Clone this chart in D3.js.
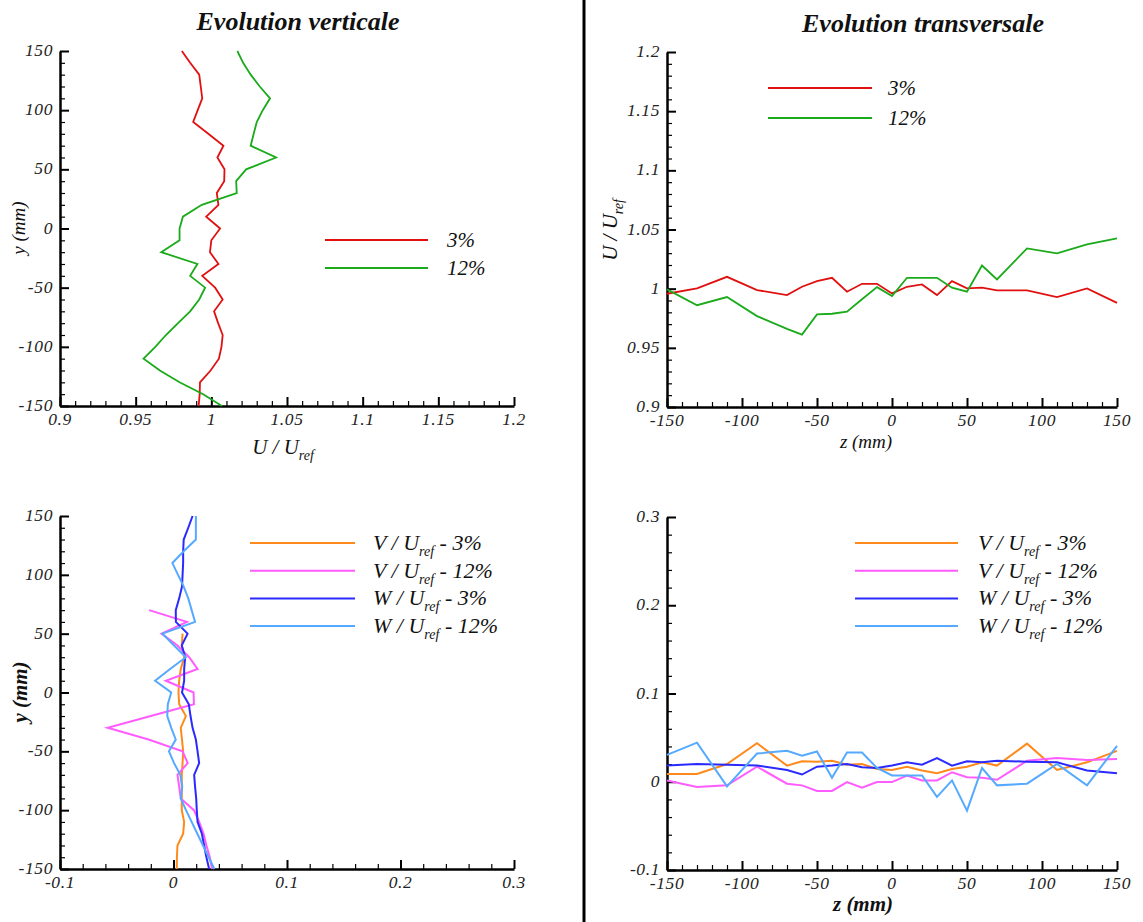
<!DOCTYPE html>
<html><head><meta charset="utf-8">
<script src="https://cdn.jsdelivr.net/npm/d3@7"></script>
<style>body{margin:0;background:#fff} svg{display:block}</style>
</head><body><svg id="c" width="1143" height="922" font-family="Liberation Serif, Times New Roman, serif"></svg>
<script>
// ---------- DATA ----------
// Panel 1 : vertical evolution of U/Uref (y in mm)
const yGrid = [150,140,130,120,110,100,90,80,70,60,50,40,30,20,10,0,-10,-20,-30,-40,-50,-60,-70,-80,-90,-100,-110,-120,-130,-140,-150];
const uVert3 = [0.9805,0.986,0.992,0.993,0.994,0.991,0.988,0.998,1.008,1.004,1.0087,1.0085,1.0036,1.0047,0.9966,1.0058,1.0,0.9991,1.0047,0.994,1.0025,1.0075,1.0018,1.0045,1.0075,1.0067,1.005,0.9995,0.9925,0.9923,0.9916];
const uVert12 = [1.0172,1.021,1.026,1.032,1.0388,1.034,1.030,1.028,1.026,1.0428,1.023,1.0164,1.0168,0.9937,0.9812,0.979,0.979,0.9669,0.9908,0.986,0.9959,0.992,0.986,0.978,0.970,0.963,0.9552,0.966,0.979,0.9946,1.007];

// Panel 2 : transverse evolution of U/Uref (z in mm)
const zGrid = [-150,-130,-110,-90,-70,-60,-50,-40,-30,-20,-10,0,10,20,30,40,50,60,70,90,110,130,150];
const uTrans3 = [0.9957,1.0002,1.010,0.9988,0.9946,1.0016,1.0064,1.0092,0.9974,1.0041,1.0041,0.996,1.0016,1.0036,0.9946,1.0064,1.0002,1.0008,0.9985,0.9985,0.9929,1.0002,0.988];
const uTrans12 = [0.9994,0.986,0.9929,0.9768,0.966,0.9612,0.9782,0.9788,0.9805,0.991,1.0013,0.9937,1.0092,1.0092,1.0092,1.0008,0.9974,1.0196,1.0078,1.034,1.0298,1.0374,1.0425];

// Panel 3 : vertical evolution of V/Uref and W/Uref
const yOrange = [50,40,30,20,10,0,-10,-20,-30,-40,-50,-60,-70,-80,-90,-100,-110,-120,-130,-140,-150];
const vVert3 = [0.008,0.0073,0.0094,0.0064,0.005,0.0044,0.005,0.0109,0.0064,0.0075,0.0085,0.008,0.0073,0.0073,0.0073,0.0073,0.0094,0.0085,0.0035,0.003,0.0029];
const yPink = [70,60,50,40,30,20,10,0,-10,-20,-30,-40,-50,-60,-70,-80,-90,-100,-110,-120,-130,-140,-150];
const vVert12 = [-0.0215,0.0118,-0.0106,0.0035,0.0138,0.0212,-0.0068,0.0177,0.018,-0.02,-0.058,-0.022,0.008,0.0125,0.0035,0.005,0.0064,0.018,0.0226,0.0265,0.029,0.032,0.034];
const wVert3 = [0.0168,0.013,0.009,0.0085,0.0085,0.008,0.0075,0.005,0.002,0.0021,0.0124,0.0073,0.0103,0.0094,0.0094,0.0075,0.0135,0.015,0.0168,0.0197,0.0212,0.0226,0.0182,0.019,0.020,0.0205,0.0212,0.025,0.027,0.029,0.0314];
const wVert12 = [0.0197,0.0197,0.0197,0.009,-0.001,0.004,0.009,0.013,0.016,0.019,-0.0097,0.0005,0.0109,-0.003,-0.0162,-0.002,-0.005,-0.0055,-0.002,0.002,-0.004,0.0005,0.006,0.0077,0.0064,0.011,0.016,0.021,0.026,0.031,0.036];

// Panel 4 : transverse evolution of V/Uref and W/Uref
const vTrans3 = [0.0089,0.0089,0.0201,0.0436,0.0183,0.0231,0.0227,0.0238,0.0194,0.0201,0.0145,0.0134,0.0171,0.0127,0.0097,0.0145,0.0171,0.022,0.0183,0.0432,0.0134,0.022,0.035];
const vTrans12 = [0.0015,-0.006,-0.0041,0.0171,-0.0022,-0.0041,-0.0104,-0.0104,-0.0004,-0.0067,-0.0004,-0.0004,0.0071,0.0015,0.0015,0.0108,0.0052,0.0045,0.0022,0.0238,0.0268,0.0246,0.0257];
const wTrans3 = [0.0183,0.0201,0.0194,0.0183,0.0134,0.0082,0.0171,0.0183,0.0201,0.0164,0.0156,0.0183,0.022,0.0194,0.0268,0.0183,0.0231,0.022,0.0238,0.0227,0.022,0.0127,0.0097];
const wTrans12 = [0.0305,0.0443,-0.0052,0.032,0.035,0.0294,0.0343,0.0045,0.0331,0.0331,0.0156,0.0071,0.0071,0.0071,-0.0171,0.0015,-0.0328,0.0156,-0.0041,-0.0022,0.0201,-0.0041,0.0406];

// Ticks
const posTicks = [-150,-100,-50,0,50,100,150];
const uTicks = [0.9,0.95,1,1.05,1.1,1.15,1.2];
const vwTicks = [-0.1,0,0.1,0.2,0.3];

// Colours
const C = {red:"#e01010", green:"#1aaa1a", orange:"#ff8a1c", pink:"#ff5cff", blue:"#2a2aff", lblue:"#55aaff"};
const SERIF = "Liberation Serif, Times New Roman, serif";

// ---------- DRAW ----------
const svg = d3.select("#c");
svg.append("rect").attr("width",1143).attr("height",922).attr("fill","#fff");
svg.append("line").attr("x1",584).attr("x2",584).attr("y1",0).attr("y2",922)
  .attr("stroke","#000").attr("stroke-width",3);

const fmt = d => String(+d.toFixed(3));
function minorTicks(t, n){ const out=[]; for(let i=0;i<t.length-1;i++){ for(let k=1;k<=n;k++) out.push(t[i]+(t[i+1]-t[i])*k/(n+1)); } return out; }
function styleTicks(s){
  s.select(".domain").attr("stroke","#000").attr("stroke-width",2.5);
  s.selectAll("line").attr("stroke","#000").attr("stroke-width",2);
  s.selectAll("text").remove();
}

function panel(o){
  const x = d3.scaleLinear().domain(o.xDom).range([o.x0,o.x1]);
  const y = d3.scaleLinear().domain(o.yDom).range([o.y1,o.y0]);
  const g = svg.append("g");
  // minor ticks
  g.append("g").attr("transform",`translate(0,${o.y1})`)
    .call(d3.axisBottom(x).tickValues(minorTicks(o.xTicks,4)).tickSizeInner(-5).tickSizeOuter(0).tickFormat(""))
    .call(s=>{s.select(".domain").remove(); s.selectAll("line").attr("stroke","#000").attr("stroke-width",1.2);});
  g.append("g").attr("transform",`translate(${o.x0},0)`)
    .call(d3.axisLeft(y).tickValues(minorTicks(o.yTicks,4)).tickSizeInner(-5).tickSizeOuter(0).tickFormat(""))
    .call(s=>{s.select(".domain").remove(); s.selectAll("line").attr("stroke","#000").attr("stroke-width",1.2);});
  // major
  g.append("g").attr("transform",`translate(0,${o.y1})`)
    .call(d3.axisBottom(x).tickValues(o.xTicks).tickSizeInner(-9).tickSizeOuter(0).tickFormat(""))
    .call(styleTicks);
  g.append("g").attr("transform",`translate(${o.x0},0)`)
    .call(d3.axisLeft(y).tickValues(o.yTicks).tickSizeInner(-9).tickSizeOuter(0).tickFormat(""))
    .call(styleTicks);
  // tick labels (placed with the scales)
  g.append("g").selectAll("text").data(o.xTicks).join("text")
    .attr("x",d=>x(d)).attr("y",o.y1+19).attr("text-anchor","middle")
    .attr("font-family",SERIF).attr("font-style","italic").attr("font-size",17.5).attr("letter-spacing",0.6).attr("fill","#222")
    .text(fmt);
  g.append("g").selectAll("text").data(o.yTicks).join("text")
    .attr("x",o.x0-7).attr("y",d=>y(d)+5).attr("text-anchor","end")
    .attr("font-family",SERIF).attr("font-style","italic").attr("font-size",17.5).attr("letter-spacing",0.6).attr("fill","#222")
    .text(fmt);
  // series
  o.series.forEach(sr=>{
    const pts = sr.p.map((p,i)=> o.vertical ? [sr.v[i],p] : [p,sr.v[i]]);
    g.append("path").datum(pts)
      .attr("d", d3.line().x(d=>x(d[0])).y(d=>y(d[1])))
      .attr("fill","none").attr("stroke",sr.c).attr("stroke-width",o.lw).attr("stroke-linejoin","miter");
  });
  // legend
  o.series.forEach((sr,i)=>{
    const ly = o.leg.y + i*o.leg.dy;
    g.append("line").attr("x1",o.leg.x1).attr("x2",o.leg.x2).attr("y1",ly).attr("y2",ly)
      .attr("stroke",sr.c).attr("stroke-width",o.lw);
    const t = g.append("text").attr("x",o.leg.tx).attr("y",ly+7)
      .attr("font-family",SERIF).attr("font-style","italic").attr("font-size",o.leg.fs).attr("fill","#111");
    if(sr.pre){
      t.append("tspan").text(sr.pre);
      t.append("tspan").attr("font-size",14).attr("dy",6).text("ref");
      t.append("tspan").attr("dy",-6).text(sr.label);
    } else t.text(sr.label);
  });
  return g;
}

panel({x0:60,x1:514,y0:51,y1:406,xDom:[0.9,1.2],yDom:[-150,150],xTicks:uTicks,yTicks:posTicks,vertical:true,lw:1.8,
  series:[{p:yGrid,v:uVert3,c:C.red,label:"3%"},{p:yGrid,v:uVert12,c:C.green,label:"12%"}],
  leg:{x1:325,x2:428,tx:447,y:240,dy:28,fs:21}});
panel({x0:667,x1:1117,y0:52,y1:407,xDom:[-150,150],yDom:[0.9,1.2],xTicks:posTicks,yTicks:uTicks,vertical:false,lw:1.8,
  series:[{p:zGrid,v:uTrans3,c:C.red,label:"3%"},{p:zGrid,v:uTrans12,c:C.green,label:"12%"}],
  leg:{x1:768,x2:872,tx:888,y:88,dy:30,fs:21}});
panel({x0:60,x1:514,y0:516,y1:869,xDom:[-0.1,0.3],yDom:[-150,150],xTicks:vwTicks,yTicks:posTicks,vertical:true,lw:2,
  series:[{p:yOrange,v:vVert3,c:C.orange,pre:"V / U",label:" - 3%"},
          {p:yPink,v:vVert12,c:C.pink,pre:"V / U",label:" - 12%"},
          {p:yGrid,v:wVert3,c:C.blue,pre:"W / U",label:" - 3%"},
          {p:yGrid,v:wVert12,c:C.lblue,pre:"W / U",label:" - 12%"}],
  leg:{x1:250,x2:355,tx:373,y:543,dy:27.7,fs:22}});
panel({x0:667,x1:1117,y0:517,y1:870,xDom:[-150,150],yDom:[-0.1,0.3],xTicks:posTicks,yTicks:vwTicks,vertical:false,lw:2,
  series:[{p:zGrid,v:vTrans3,c:C.orange,pre:"V / U",label:" - 3%"},
          {p:zGrid,v:vTrans12,c:C.pink,pre:"V / U",label:" - 12%"},
          {p:zGrid,v:wTrans3,c:C.blue,pre:"W / U",label:" - 3%"},
          {p:zGrid,v:wTrans12,c:C.lblue,pre:"W / U",label:" - 12%"}],
  leg:{x1:855,x2:958,tx:978,y:543,dy:27.7,fs:22}});

function txt(x,y,s,opts){
  const t = svg.append("text").attr("x",x).attr("y",y).attr("text-anchor","middle")
    .attr("font-family",SERIF).attr("font-style","italic").attr("font-size",opts.fs).attr("fill","#111");
  if(opts.bold) t.attr("font-weight","bold");
  if(opts.rot) t.attr("transform",`rotate(-90,${x},${y})`);
  if(s==="U") { t.append("tspan").text("U / U"); t.append("tspan").attr("font-size",14).attr("dy",6).text("ref"); }
  else t.text(s);
  return t;
}
// Titles
txt(298,30,"Evolution verticale",{fs:26,bold:true});
txt(923,32,"Evolution transversale",{fs:26,bold:true});

// Axis labels
txt(283,454,"U",{fs:21});
txt(25,228,"y (mm)",{fs:19,rot:true});
txt(617,230,"U",{fs:21,rot:true});
txt(866,448,"z (mm)",{fs:19});
txt(27,692,"y (mm)",{fs:21,bold:true,rot:true});
txt(863,911,"z (mm)",{fs:21,bold:true});
</script></body></html>
